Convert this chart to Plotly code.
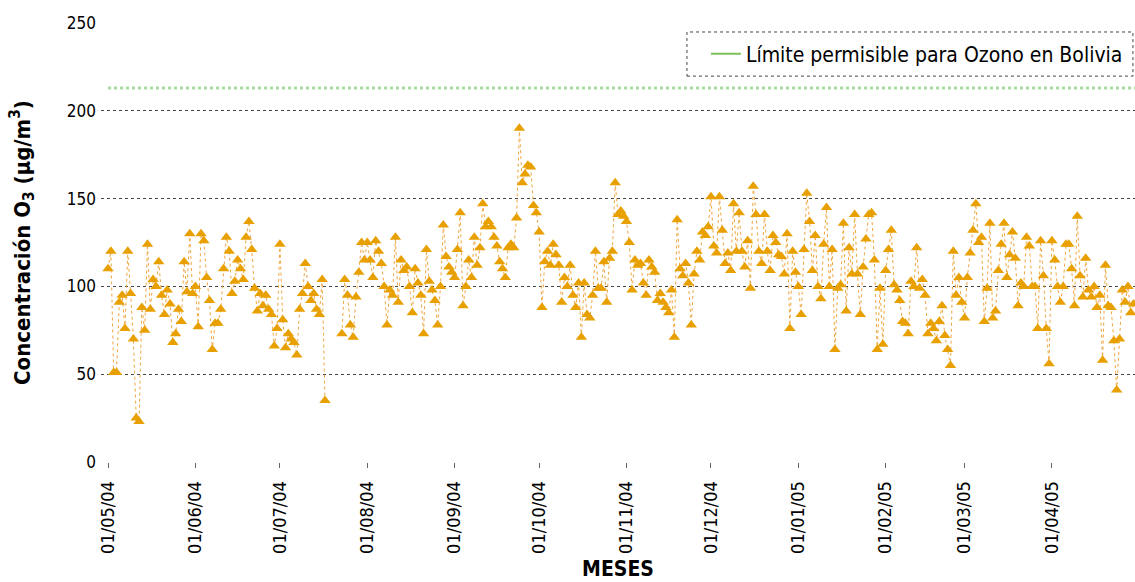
import pandas as pd
import plotly.graph_objects as go

# Daily mean ozone concentration (µg/m³), 01/05/2004 - 30/04/2005
may_04 = [110, 120, 51, 51, 91, 95, 76, 120, 96, 70, 25, 23, 88, 75, 124, 87, 104, 100, 114, 95,
          84, 98, 90, 68, 73, 87, 80, 114, 97, 130, 96]
jun_04 = [100, 77, 130, 126, 105, 92, 64, 79, 79, 87, 110, 128, 120, 96, 103, 115, 110, 104, 128, 137,
          121, 99, 86, 96, 89, 95, 87, 84, 66, 76]
jul_04 = [124, 81, 65, 73, 70, 68, 61, 87, 96, 113, 100, 92, 96, 87, 84, 104, 35,
          None, None, None, None, None, 73, 104, 95, 78, 71, 94, 108, 125, 115]
aug_04 = [125, 115, 105, 126, 120, 113, 100, 78, 98, 95, 128, 91, 115, 109, 111, 100, 85, 110, 102, 95,
          73, 121, 103, 98, 92, 78, 100, 135, 117, 111, 108]
sep_04 = [105, 121, 142, 89, 100, 115, 105, 128, 112, 122, 147, 134, 137, 134, 128, 123, 114, 110, 105, 122,
          124, 122, 139, 190, 159, 164, 169, 168, 146, 142]
oct_04 = [131, 88, 114, 120, 112, 124, 118, 112, 91, 105, 100, 112, 95, 88, 102, 71, 102, 84, 82, 95,
          120, 99, 99, 114, 91, 116, 120, 159, 141, 143, 140]
nov_04 = [137, 125, 98, 115, 112, 113, 102, 95, 115, 111, 108, 92, 96, 91, 88, 85, 98, 71, 138, 110,
          106, 113, 102, 78, 107, 120, 115, 131, 129, 134]
dec_04 = [151, 123, 119, 151, 132, 113, 119, 109, 147, 120, 142, 120, 111, 126, 99, 157, 141, 120, 113, 141,
          120, 109, 129, 125, 118, 117, 107, 130, 76, 120, 108]
jan_05 = [100, 84, 121, 153, 137, 109, 129, 100, 93, 124, 145, 100, 121, 64, 99, 101, 136, 86, 122, 107,
          141, 107, 84, 111, 127, 141, 142, 115, 64, 99, 67]
feb_05 = [109, 121, 132, 101, 98, 92, 80, 79, 73, 103, 100, 122, 99, 104, 95, 73, 79, 76, 69, 80,
          89, 72, 64, 55, 120, 95, 105, 91]
mar_05 = [82, 105, 119, 132, 147, 125, 128, 80, 99, 136, 82, 86, 109, 124, 136, 105, 118, 131, 116, 89,
          102, 100, 128, 123, 100, 100, 76, 126, 106, 76, 56]
apr_05 = [126, 115, 100, 91, 100, 124, 124, 110, 89, 140, 106, 94, 116, 98, 94, 100, 88, 95, 58, 112,
          89, 88, 69, 41, 70, 98, 91, 100, 85, 90]

ozono = may_04 + jun_04 + jul_04 + aug_04 + sep_04 + oct_04 + nov_04 + dec_04 + jan_05 + feb_05 + mar_05 + apr_05
fechas = pd.date_range("2004-05-01", periods=len(ozono), freq="D")

# Permissible limit for ozone in Bolivia (µg/m³)
limite = 213
limite_x = ["2004-05-01", "2005-05-01"]
limite_y = [limite, limite]

# Month ticks
tick_fechas = pd.date_range("2004-05-01", "2005-04-01", freq="MS")
tick_textos = [d.strftime("%d/%m/%y") for d in tick_fechas]

FONT = "Liberation Sans Narrow, DejaVu Sans Condensed, Arial Narrow, sans-serif"

fig = go.Figure()

fig.add_trace(go.Scatter(
    x=fechas, y=ozono, mode="lines+markers",
    line=dict(color="#F0A640", width=1, dash="dot"),
    marker=dict(symbol="triangle-up", size=10, color="#E8A000"),
    connectgaps=False, showlegend=False,
))

fig.add_trace(go.Scatter(
    x=limite_x, y=limite_y, mode="lines",
    line=dict(color="#A9DCA0", width=3, dash="dot"),
    showlegend=False, hoverinfo="skip",
))

# Legend entry for the limit line
fig.add_trace(go.Scatter(
    x=[None], y=[None], mode="lines",
    line=dict(color="#7DC05A", width=2),
    name="Límite permisible para Ozono en Bolivia",
))

fig.update_layout(
    width=1135, height=582,
    margin=dict(l=101, r=0, t=23, b=120),
    paper_bgcolor="white", plot_bgcolor="white",
    font=dict(family=FONT, color="black", size=15),
    legend=dict(
        x=0.585, y=0.929, xanchor="left", yanchor="middle",
        bgcolor="rgba(0,0,0,0)", borderwidth=0,
        font=dict(family=FONT, size=21, color="black"),
    ),
    shapes=[dict(
        type="rect", xref="paper", yref="paper",
        x0=0.5667, x1=0.998, y0=0.879, y1=0.9795,
        line=dict(color="#444444", width=1, dash="dot"),
        fillcolor="rgba(0,0,0,0)", layer="below",
    )],
)

fig.update_xaxes(
    range=["2004-04-28 12:00", "2005-04-30 12:00"],
    tickvals=tick_fechas, ticktext=tick_textos, tickangle=-90,
    ticks="outside", ticklen=5, tickcolor="#666666",
    tickfont=dict(family=FONT, size=18, color="black"),
    ticklabelstandoff=6,
    showgrid=False, showline=False, zeroline=False,
    title=dict(text="<b>MESES</b>", font=dict(family=FONT, size=21, color="black"), standoff=8),
)

fig.update_yaxes(
    range=[0, 250], tickvals=[0, 50, 100, 150, 200, 250],
    showgrid=True, gridcolor="#444444", gridwidth=1, griddash="dot",
    zeroline=False, showline=False, ticks="",
    tickfont=dict(family=FONT, size=17, color="black"),
    ticklabelstandoff=4,
    title=dict(text="<b>Concentración O<sub>3</sub> (µg/m<sup>3</sup>)</b>",
               font=dict(family=FONT, size=22, color="black"), standoff=30),
)

fig.write_html("out.html")
